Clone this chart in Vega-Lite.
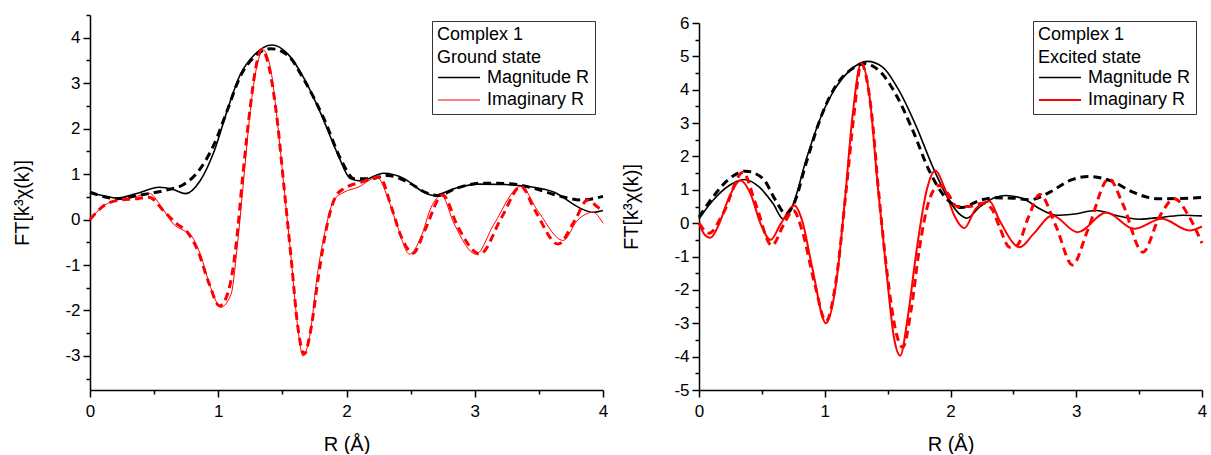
{
"$schema": "https://vega.github.io/schema/vega-lite/v6.json",
"background": "white",
"padding": {"left": 12, "top": 14, "right": 2, "bottom": 0},
"spacing": 12,
"config": {
  "view": {"stroke": null},
  "font": "Liberation Sans",
  "axis": {"grid": false, "domainColor": "black", "tickColor": "black", "labelColor": "black", "titleColor": "black", "labelFont": "Liberation Sans", "titleFont": "Liberation Sans", "labelFontSize": 17, "titleFontSize": 20, "titleFontWeight": "normal", "domainWidth": 1.5, "tickWidth": 1.5, "labelFlush": false, "labelOverlap": false, "labelBound": false},
  "legend": {"orient": "none", "strokeColor": "#333", "fillColor": "white", "padding": 5, "symbolType": "stroke", "symbolSize": 1764, "symbolStrokeWidth": 1.5, "clipHeight": 18, "labelFontSize": 18, "titleFontSize": 18, "titleFontWeight": "normal", "titleLineHeight": 22.5, "rowPadding": 4.5, "titlePadding": 2, "labelOffset": 6, "labelFont": "Liberation Sans", "titleFont": "Liberation Sans", "labelColor": "black", "titleColor": "black", "titleAnchor": "start"}
},
"datasets": {"d": [
{"p":"G","s":"Magnitude R","k":"e","r":0,"v":0.58},{"p":"G","s":"Magnitude R","k":"e","r":0.1,"v":0.53},{"p":"G","s":"Magnitude R","k":"e","r":0.21,"v":0.47},{"p":"G","s":"Magnitude R","k":"e","r":0.35,"v":0.56},{"p":"G","s":"Magnitude R","k":"e","r":0.54,"v":0.71},{"p":"G","s":"Magnitude R","k":"e","r":0.65,"v":0.66},{"p":"G","s":"Magnitude R","k":"e","r":0.745,"v":0.57},{"p":"G","s":"Magnitude R","k":"e","r":0.86,"v":0.86},{"p":"G","s":"Magnitude R","k":"e","r":0.97,"v":1.52},{"p":"G","s":"Magnitude R","k":"e","r":1.07,"v":2.4},{"p":"G","s":"Magnitude R","k":"e","r":1.17,"v":3.18},{"p":"G","s":"Magnitude R","k":"e","r":1.28,"v":3.62},{"p":"G","s":"Magnitude R","k":"e","r":1.42,"v":3.84},{"p":"G","s":"Magnitude R","k":"e","r":1.54,"v":3.65},{"p":"G","s":"Magnitude R","k":"e","r":1.67,"v":3.1},{"p":"G","s":"Magnitude R","k":"e","r":1.8,"v":2.33},{"p":"G","s":"Magnitude R","k":"e","r":1.93,"v":1.45},{"p":"G","s":"Magnitude R","k":"e","r":2.03,"v":0.9},{"p":"G","s":"Magnitude R","k":"e","r":2.11,"v":0.85},{"p":"G","s":"Magnitude R","k":"e","r":2.29,"v":1.02},{"p":"G","s":"Magnitude R","k":"e","r":2.45,"v":0.9},{"p":"G","s":"Magnitude R","k":"e","r":2.58,"v":0.64},{"p":"G","s":"Magnitude R","k":"e","r":2.68,"v":0.53},{"p":"G","s":"Magnitude R","k":"e","r":2.84,"v":0.68},{"p":"G","s":"Magnitude R","k":"e","r":3.02,"v":0.78},{"p":"G","s":"Magnitude R","k":"e","r":3.23,"v":0.77},{"p":"G","s":"Magnitude R","k":"e","r":3.41,"v":0.73},{"p":"G","s":"Magnitude R","k":"e","r":3.62,"v":0.6},{"p":"G","s":"Magnitude R","k":"e","r":3.83,"v":0.24},{"p":"G","s":"Magnitude R","k":"e","r":3.92,"v":0.16},{"p":"G","s":"Magnitude R","k":"e","r":4.0,"v":0.2},
{"p":"G","s":"Magnitude R","k":"f","r":0,"v":0.6},{"p":"G","s":"Magnitude R","k":"f","r":0.21,"v":0.46},{"p":"G","s":"Magnitude R","k":"f","r":0.37,"v":0.53},{"p":"G","s":"Magnitude R","k":"f","r":0.58,"v":0.64},{"p":"G","s":"Magnitude R","k":"f","r":0.73,"v":0.77},{"p":"G","s":"Magnitude R","k":"f","r":0.86,"v":1.12},{"p":"G","s":"Magnitude R","k":"f","r":0.97,"v":1.67},{"p":"G","s":"Magnitude R","k":"f","r":1.07,"v":2.4},{"p":"G","s":"Magnitude R","k":"f","r":1.17,"v":3.14},{"p":"G","s":"Magnitude R","k":"f","r":1.28,"v":3.58},{"p":"G","s":"Magnitude R","k":"f","r":1.41,"v":3.76},{"p":"G","s":"Magnitude R","k":"f","r":1.54,"v":3.62},{"p":"G","s":"Magnitude R","k":"f","r":1.67,"v":3.07},{"p":"G","s":"Magnitude R","k":"f","r":1.83,"v":2.18},{"p":"G","s":"Magnitude R","k":"f","r":1.96,"v":1.3},{"p":"G","s":"Magnitude R","k":"f","r":2.06,"v":0.9},{"p":"G","s":"Magnitude R","k":"f","r":2.19,"v":0.9},{"p":"G","s":"Magnitude R","k":"f","r":2.32,"v":0.97},{"p":"G","s":"Magnitude R","k":"f","r":2.48,"v":0.82},{"p":"G","s":"Magnitude R","k":"f","r":2.63,"v":0.58},{"p":"G","s":"Magnitude R","k":"f","r":2.71,"v":0.53},{"p":"G","s":"Magnitude R","k":"f","r":2.87,"v":0.7},{"p":"G","s":"Magnitude R","k":"f","r":3.05,"v":0.8},{"p":"G","s":"Magnitude R","k":"f","r":3.26,"v":0.79},{"p":"G","s":"Magnitude R","k":"f","r":3.47,"v":0.68},{"p":"G","s":"Magnitude R","k":"f","r":3.67,"v":0.51},{"p":"G","s":"Magnitude R","k":"f","r":3.83,"v":0.43},{"p":"G","s":"Magnitude R","k":"f","r":4.0,"v":0.51},
{"p":"G","s":"Imaginary R","k":"e","r":0,"v":0},{"p":"G","s":"Imaginary R","k":"e","r":0.11,"v":0.31},{"p":"G","s":"Imaginary R","k":"e","r":0.21,"v":0.43},{"p":"G","s":"Imaginary R","k":"e","r":0.34,"v":0.49},{"p":"G","s":"Imaginary R","k":"e","r":0.46,"v":0.58},{"p":"G","s":"Imaginary R","k":"e","r":0.55,"v":0.31},{"p":"G","s":"Imaginary R","k":"e","r":0.65,"v":-0.1},{"p":"G","s":"Imaginary R","k":"e","r":0.73,"v":-0.24},{"p":"G","s":"Imaginary R","k":"e","r":0.78,"v":-0.32},{"p":"G","s":"Imaginary R","k":"e","r":0.86,"v":-0.76},{"p":"G","s":"Imaginary R","k":"e","r":0.94,"v":-1.49},{"p":"G","s":"Imaginary R","k":"e","r":1.02,"v":-1.93},{"p":"G","s":"Imaginary R","k":"e","r":1.1,"v":-1.64},{"p":"G","s":"Imaginary R","k":"e","r":1.15,"v":-0.54},{"p":"G","s":"Imaginary R","k":"e","r":1.2,"v":0.93},{"p":"G","s":"Imaginary R","k":"e","r":1.25,"v":2.4},{"p":"G","s":"Imaginary R","k":"e","r":1.3,"v":3.36},{"p":"G","s":"Imaginary R","k":"e","r":1.35,"v":3.73},{"p":"G","s":"Imaginary R","k":"e","r":1.41,"v":3.29},{"p":"G","s":"Imaginary R","k":"e","r":1.46,"v":2.18},{"p":"G","s":"Imaginary R","k":"e","r":1.51,"v":0.79},{"p":"G","s":"Imaginary R","k":"e","r":1.57,"v":-0.9},{"p":"G","s":"Imaginary R","k":"e","r":1.62,"v":-2.37},{"p":"G","s":"Imaginary R","k":"e","r":1.66,"v":-3.0},{"p":"G","s":"Imaginary R","k":"e","r":1.72,"v":-2.45},{"p":"G","s":"Imaginary R","k":"e","r":1.77,"v":-1.27},{"p":"G","s":"Imaginary R","k":"e","r":1.84,"v":-0.17},{"p":"G","s":"Imaginary R","k":"e","r":1.9,"v":0.42},{"p":"G","s":"Imaginary R","k":"e","r":1.98,"v":0.6},{"p":"G","s":"Imaginary R","k":"e","r":2.09,"v":0.71},{"p":"G","s":"Imaginary R","k":"e","r":2.24,"v":0.93},{"p":"G","s":"Imaginary R","k":"e","r":2.32,"v":0.49},{"p":"G","s":"Imaginary R","k":"e","r":2.4,"v":-0.17},{"p":"G","s":"Imaginary R","k":"e","r":2.49,"v":-0.76},{"p":"G","s":"Imaginary R","k":"e","r":2.58,"v":-0.39},{"p":"G","s":"Imaginary R","k":"e","r":2.66,"v":0.27},{"p":"G","s":"Imaginary R","k":"e","r":2.74,"v":0.53},{"p":"G","s":"Imaginary R","k":"e","r":2.84,"v":-0.1},{"p":"G","s":"Imaginary R","k":"e","r":3.01,"v":-0.76},{"p":"G","s":"Imaginary R","k":"e","r":3.15,"v":-0.1},{"p":"G","s":"Imaginary R","k":"e","r":3.36,"v":0.73},{"p":"G","s":"Imaginary R","k":"e","r":3.49,"v":0.2},{"p":"G","s":"Imaginary R","k":"e","r":3.69,"v":-0.46},{"p":"G","s":"Imaginary R","k":"e","r":3.8,"v":-0.02},{"p":"G","s":"Imaginary R","k":"e","r":3.92,"v":0.16},{"p":"G","s":"Imaginary R","k":"e","r":4.0,"v":-0.08},
{"p":"G","s":"Imaginary R","k":"f","r":0,"v":0},{"p":"G","s":"Imaginary R","k":"f","r":0.11,"v":0.31},{"p":"G","s":"Imaginary R","k":"f","r":0.21,"v":0.42},{"p":"G","s":"Imaginary R","k":"f","r":0.37,"v":0.46},{"p":"G","s":"Imaginary R","k":"f","r":0.46,"v":0.49},{"p":"G","s":"Imaginary R","k":"f","r":0.58,"v":0.17},{"p":"G","s":"Imaginary R","k":"f","r":0.68,"v":-0.1},{"p":"G","s":"Imaginary R","k":"f","r":0.76,"v":-0.28},{"p":"G","s":"Imaginary R","k":"f","r":0.84,"v":-0.68},{"p":"G","s":"Imaginary R","k":"f","r":0.93,"v":-1.42},{"p":"G","s":"Imaginary R","k":"f","r":1.01,"v":-1.9},{"p":"G","s":"Imaginary R","k":"f","r":1.08,"v":-1.57},{"p":"G","s":"Imaginary R","k":"f","r":1.14,"v":-0.54},{"p":"G","s":"Imaginary R","k":"f","r":1.19,"v":0.93},{"p":"G","s":"Imaginary R","k":"f","r":1.25,"v":2.48},{"p":"G","s":"Imaginary R","k":"f","r":1.29,"v":3.3},{"p":"G","s":"Imaginary R","k":"f","r":1.34,"v":3.74},{"p":"G","s":"Imaginary R","k":"f","r":1.4,"v":3.3},{"p":"G","s":"Imaginary R","k":"f","r":1.46,"v":2.18},{"p":"G","s":"Imaginary R","k":"f","r":1.51,"v":0.79},{"p":"G","s":"Imaginary R","k":"f","r":1.57,"v":-0.9},{"p":"G","s":"Imaginary R","k":"f","r":1.62,"v":-2.35},{"p":"G","s":"Imaginary R","k":"f","r":1.67,"v":-2.96},{"p":"G","s":"Imaginary R","k":"f","r":1.72,"v":-2.45},{"p":"G","s":"Imaginary R","k":"f","r":1.78,"v":-1.27},{"p":"G","s":"Imaginary R","k":"f","r":1.85,"v":-0.1},{"p":"G","s":"Imaginary R","k":"f","r":1.92,"v":0.53},{"p":"G","s":"Imaginary R","k":"f","r":1.98,"v":0.68},{"p":"G","s":"Imaginary R","k":"f","r":2.11,"v":0.82},{"p":"G","s":"Imaginary R","k":"f","r":2.26,"v":0.93},{"p":"G","s":"Imaginary R","k":"f","r":2.35,"v":0.27},{"p":"G","s":"Imaginary R","k":"f","r":2.43,"v":-0.4},{"p":"G","s":"Imaginary R","k":"f","r":2.52,"v":-0.74},{"p":"G","s":"Imaginary R","k":"f","r":2.61,"v":-0.24},{"p":"G","s":"Imaginary R","k":"f","r":2.75,"v":0.54},{"p":"G","s":"Imaginary R","k":"f","r":2.87,"v":-0.17},{"p":"G","s":"Imaginary R","k":"f","r":3.04,"v":-0.76},{"p":"G","s":"Imaginary R","k":"f","r":3.21,"v":0.05},{"p":"G","s":"Imaginary R","k":"f","r":3.36,"v":0.73},{"p":"G","s":"Imaginary R","k":"f","r":3.47,"v":0.2},{"p":"G","s":"Imaginary R","k":"f","r":3.65,"v":-0.54},{"p":"G","s":"Imaginary R","k":"f","r":3.78,"v":-0.02},{"p":"G","s":"Imaginary R","k":"f","r":3.88,"v":0.43},{"p":"G","s":"Imaginary R","k":"f","r":3.96,"v":0.27},{"p":"G","s":"Imaginary R","k":"f","r":4.0,"v":0.2},
{"p":"E","s":"Magnitude R","k":"e","r":0,"v":0.13},{"p":"E","s":"Magnitude R","k":"e","r":0.11,"v":0.68},{"p":"E","s":"Magnitude R","k":"e","r":0.24,"v":1.13},{"p":"E","s":"Magnitude R","k":"e","r":0.36,"v":1.31},{"p":"E","s":"Magnitude R","k":"e","r":0.48,"v":1.08},{"p":"E","s":"Magnitude R","k":"e","r":0.59,"v":0.58},{"p":"E","s":"Magnitude R","k":"e","r":0.67,"v":0.13},{"p":"E","s":"Magnitude R","k":"e","r":0.75,"v":0.58},{"p":"E","s":"Magnitude R","k":"e","r":0.85,"v":1.88},{"p":"E","s":"Magnitude R","k":"e","r":0.98,"v":3.28},{"p":"E","s":"Magnitude R","k":"e","r":1.09,"v":4.08},{"p":"E","s":"Magnitude R","k":"e","r":1.2,"v":4.58},{"p":"E","s":"Magnitude R","k":"e","r":1.34,"v":4.85},{"p":"E","s":"Magnitude R","k":"e","r":1.46,"v":4.68},{"p":"E","s":"Magnitude R","k":"e","r":1.59,"v":3.98},{"p":"E","s":"Magnitude R","k":"e","r":1.73,"v":2.88},{"p":"E","s":"Magnitude R","k":"e","r":1.86,"v":1.68},{"p":"E","s":"Magnitude R","k":"e","r":1.99,"v":0.68},{"p":"E","s":"Magnitude R","k":"e","r":2.07,"v":0.28},{"p":"E","s":"Magnitude R","k":"e","r":2.13,"v":0.15},{"p":"E","s":"Magnitude R","k":"e","r":2.23,"v":0.48},{"p":"E","s":"Magnitude R","k":"e","r":2.36,"v":0.78},{"p":"E","s":"Magnitude R","k":"e","r":2.44,"v":0.83},{"p":"E","s":"Magnitude R","k":"e","r":2.58,"v":0.73},{"p":"E","s":"Magnitude R","k":"e","r":2.71,"v":0.43},{"p":"E","s":"Magnitude R","k":"e","r":2.84,"v":0.24},{"p":"E","s":"Magnitude R","k":"e","r":2.97,"v":0.27},{"p":"E","s":"Magnitude R","k":"e","r":3.16,"v":0.38},{"p":"E","s":"Magnitude R","k":"e","r":3.32,"v":0.23},{"p":"E","s":"Magnitude R","k":"e","r":3.5,"v":0.12},{"p":"E","s":"Magnitude R","k":"e","r":3.69,"v":0.18},{"p":"E","s":"Magnitude R","k":"e","r":3.85,"v":0.24},{"p":"E","s":"Magnitude R","k":"e","r":4.0,"v":0.22},
{"p":"E","s":"Magnitude R","k":"f","r":0,"v":0.18},{"p":"E","s":"Magnitude R","k":"f","r":0.11,"v":0.78},{"p":"E","s":"Magnitude R","k":"f","r":0.24,"v":1.33},{"p":"E","s":"Magnitude R","k":"f","r":0.37,"v":1.56},{"p":"E","s":"Magnitude R","k":"f","r":0.51,"v":1.33},{"p":"E","s":"Magnitude R","k":"f","r":0.61,"v":0.68},{"p":"E","s":"Magnitude R","k":"f","r":0.69,"v":0.28},{"p":"E","s":"Magnitude R","k":"f","r":0.76,"v":0.63},{"p":"E","s":"Magnitude R","k":"f","r":0.85,"v":1.78},{"p":"E","s":"Magnitude R","k":"f","r":0.98,"v":3.28},{"p":"E","s":"Magnitude R","k":"f","r":1.09,"v":4.13},{"p":"E","s":"Magnitude R","k":"f","r":1.2,"v":4.58},{"p":"E","s":"Magnitude R","k":"f","r":1.32,"v":4.78},{"p":"E","s":"Magnitude R","k":"f","r":1.43,"v":4.58},{"p":"E","s":"Magnitude R","k":"f","r":1.57,"v":3.83},{"p":"E","s":"Magnitude R","k":"f","r":1.7,"v":2.78},{"p":"E","s":"Magnitude R","k":"f","r":1.83,"v":1.58},{"p":"E","s":"Magnitude R","k":"f","r":1.97,"v":0.73},{"p":"E","s":"Magnitude R","k":"f","r":2.09,"v":0.47},{"p":"E","s":"Magnitude R","k":"f","r":2.23,"v":0.68},{"p":"E","s":"Magnitude R","k":"f","r":2.36,"v":0.76},{"p":"E","s":"Magnitude R","k":"f","r":2.5,"v":0.75},{"p":"E","s":"Magnitude R","k":"f","r":2.63,"v":0.7},{"p":"E","s":"Magnitude R","k":"f","r":2.79,"v":0.93},{"p":"E","s":"Magnitude R","k":"f","r":2.95,"v":1.28},{"p":"E","s":"Magnitude R","k":"f","r":3.1,"v":1.4},{"p":"E","s":"Magnitude R","k":"f","r":3.29,"v":1.25},{"p":"E","s":"Magnitude R","k":"f","r":3.45,"v":0.93},{"p":"E","s":"Magnitude R","k":"f","r":3.66,"v":0.73},{"p":"E","s":"Magnitude R","k":"f","r":3.82,"v":0.74},{"p":"E","s":"Magnitude R","k":"f","r":4.0,"v":0.77},
{"p":"E","s":"Imaginary R","k":"e","r":0,"v":0},{"p":"E","s":"Imaginary R","k":"e","r":0.04,"v":-0.32},{"p":"E","s":"Imaginary R","k":"e","r":0.09,"v":-0.44},{"p":"E","s":"Imaginary R","k":"e","r":0.16,"v":-0.02},{"p":"E","s":"Imaginary R","k":"e","r":0.24,"v":0.78},{"p":"E","s":"Imaginary R","k":"e","r":0.33,"v":1.28},{"p":"E","s":"Imaginary R","k":"e","r":0.41,"v":0.88},{"p":"E","s":"Imaginary R","k":"e","r":0.49,"v":-0.02},{"p":"E","s":"Imaginary R","k":"e","r":0.57,"v":-0.5},{"p":"E","s":"Imaginary R","k":"e","r":0.65,"v":-0.02},{"p":"E","s":"Imaginary R","k":"e","r":0.76,"v":0.53},{"p":"E","s":"Imaginary R","k":"e","r":0.82,"v":0.08},{"p":"E","s":"Imaginary R","k":"e","r":0.9,"v":-1.32},{"p":"E","s":"Imaginary R","k":"e","r":1.01,"v":-3.0},{"p":"E","s":"Imaginary R","k":"e","r":1.09,"v":-1.82},{"p":"E","s":"Imaginary R","k":"e","r":1.16,"v":0.68},{"p":"E","s":"Imaginary R","k":"e","r":1.22,"v":3.18},{"p":"E","s":"Imaginary R","k":"e","r":1.29,"v":4.8},{"p":"E","s":"Imaginary R","k":"e","r":1.36,"v":3.68},{"p":"E","s":"Imaginary R","k":"e","r":1.42,"v":1.18},{"p":"E","s":"Imaginary R","k":"e","r":1.49,"v":-1.42},{"p":"E","s":"Imaginary R","k":"e","r":1.55,"v":-3.42},{"p":"E","s":"Imaginary R","k":"e","r":1.6,"v":-3.97},{"p":"E","s":"Imaginary R","k":"e","r":1.66,"v":-2.82},{"p":"E","s":"Imaginary R","k":"e","r":1.73,"v":-0.82},{"p":"E","s":"Imaginary R","k":"e","r":1.81,"v":0.98},{"p":"E","s":"Imaginary R","k":"e","r":1.88,"v":1.58},{"p":"E","s":"Imaginary R","k":"e","r":1.95,"v":1.08},{"p":"E","s":"Imaginary R","k":"e","r":2.03,"v":0.23},{"p":"E","s":"Imaginary R","k":"e","r":2.11,"v":-0.15},{"p":"E","s":"Imaginary R","k":"e","r":2.2,"v":0.43},{"p":"E","s":"Imaginary R","k":"e","r":2.31,"v":0.66},{"p":"E","s":"Imaginary R","k":"e","r":2.39,"v":0.08},{"p":"E","s":"Imaginary R","k":"e","r":2.55,"v":-0.72},{"p":"E","s":"Imaginary R","k":"e","r":2.66,"v":-0.32},{"p":"E","s":"Imaginary R","k":"e","r":2.81,"v":0.23},{"p":"E","s":"Imaginary R","k":"e","r":3.01,"v":-0.27},{"p":"E","s":"Imaginary R","k":"e","r":3.24,"v":0.32},{"p":"E","s":"Imaginary R","k":"e","r":3.46,"v":-0.17},{"p":"E","s":"Imaginary R","k":"e","r":3.68,"v":0.13},{"p":"E","s":"Imaginary R","k":"e","r":3.9,"v":-0.22},{"p":"E","s":"Imaginary R","k":"e","r":4.0,"v":-0.1},
{"p":"E","s":"Imaginary R","k":"f","r":0,"v":0},{"p":"E","s":"Imaginary R","k":"f","r":0.08,"v":-0.3},{"p":"E","s":"Imaginary R","k":"f","r":0.19,"v":0.28},{"p":"E","s":"Imaginary R","k":"f","r":0.35,"v":1.53},{"p":"E","s":"Imaginary R","k":"f","r":0.45,"v":0.58},{"p":"E","s":"Imaginary R","k":"f","r":0.58,"v":-0.67},{"p":"E","s":"Imaginary R","k":"f","r":0.67,"v":-0.07},{"p":"E","s":"Imaginary R","k":"f","r":0.75,"v":0.38},{"p":"E","s":"Imaginary R","k":"f","r":0.82,"v":-0.22},{"p":"E","s":"Imaginary R","k":"f","r":0.92,"v":-1.82},{"p":"E","s":"Imaginary R","k":"f","r":1.01,"v":-2.94},{"p":"E","s":"Imaginary R","k":"f","r":1.09,"v":-1.72},{"p":"E","s":"Imaginary R","k":"f","r":1.17,"v":0.98},{"p":"E","s":"Imaginary R","k":"f","r":1.23,"v":3.18},{"p":"E","s":"Imaginary R","k":"f","r":1.29,"v":4.78},{"p":"E","s":"Imaginary R","k":"f","r":1.37,"v":3.38},{"p":"E","s":"Imaginary R","k":"f","r":1.43,"v":0.88},{"p":"E","s":"Imaginary R","k":"f","r":1.5,"v":-1.62},{"p":"E","s":"Imaginary R","k":"f","r":1.57,"v":-3.32},{"p":"E","s":"Imaginary R","k":"f","r":1.62,"v":-3.72},{"p":"E","s":"Imaginary R","k":"f","r":1.69,"v":-2.52},{"p":"E","s":"Imaginary R","k":"f","r":1.75,"v":-0.82},{"p":"E","s":"Imaginary R","k":"f","r":1.83,"v":0.68},{"p":"E","s":"Imaginary R","k":"f","r":1.91,"v":1.13},{"p":"E","s":"Imaginary R","k":"f","r":1.98,"v":0.88},{"p":"E","s":"Imaginary R","k":"f","r":2.05,"v":0.5},{"p":"E","s":"Imaginary R","k":"f","r":2.15,"v":0.5},{"p":"E","s":"Imaginary R","k":"f","r":2.26,"v":0.6},{"p":"E","s":"Imaginary R","k":"f","r":2.33,"v":0.42},{"p":"E","s":"Imaginary R","k":"f","r":2.39,"v":-0.12},{"p":"E","s":"Imaginary R","k":"f","r":2.47,"v":-0.72},{"p":"E","s":"Imaginary R","k":"f","r":2.53,"v":-0.66},{"p":"E","s":"Imaginary R","k":"f","r":2.62,"v":0.18},{"p":"E","s":"Imaginary R","k":"f","r":2.71,"v":0.86},{"p":"E","s":"Imaginary R","k":"f","r":2.84,"v":-0.1},{"p":"E","s":"Imaginary R","k":"f","r":2.97,"v":-1.25},{"p":"E","s":"Imaginary R","k":"f","r":3.09,"v":-0.22},{"p":"E","s":"Imaginary R","k":"f","r":3.26,"v":1.33},{"p":"E","s":"Imaginary R","k":"f","r":3.37,"v":0.58},{"p":"E","s":"Imaginary R","k":"f","r":3.53,"v":-0.87},{"p":"E","s":"Imaginary R","k":"f","r":3.66,"v":0.18},{"p":"E","s":"Imaginary R","k":"f","r":3.78,"v":0.73},{"p":"E","s":"Imaginary R","k":"f","r":3.9,"v":0.18},{"p":"E","s":"Imaginary R","k":"f","r":4.0,"v":-0.6}
]},
"resolve": {"scale": {"color": "independent", "strokeWidth": "independent", "x": "independent", "y": "independent"}, "legend": {"color": "independent"}},
"hconcat": [
{
  "width": 513, "height": 375,
  "data": {"name": "d"},
  "transform": [{"filter": "datum.p === 'G'"}],
  "encoding": {
    "color": {"field": "s", "type": "nominal", "scale": {"domain": ["Magnitude R", "Imaginary R"], "range": ["black", "red"]},
      "legend": {"title": ["Complex 1", "Ground state"], "legendX": 342, "legendY": 6}}
  },
  "resolve": {"axis": {"x": "independent", "y": "independent"}},
  "layer": [
    {"transform": [{"filter": "datum.k === 'e'"}], "mark": {"type": "line", "interpolate": "monotone"},
     "encoding": {
       "x": {"field": "r", "type": "quantitative", "scale": {"domain": [0, 4], "nice": false, "zero": false},
         "axis": {"orient": "bottom", "title": "R (Å)", "values": [0,1,2,3,4], "labelExpr": "toString(datum.value)", "tickSize": 7, "labelPadding": 6, "titlePadding": 15}},
       "y": {"field": "v", "type": "quantitative", "scale": {"domain": [-3.75, 4.5], "nice": false, "zero": false},
         "axis": {"orient": "left", "title": "FT[k³χ(k)]", "values": [-3,-2,-1,0,1,2,3,4], "labelExpr": "toString(datum.value)", "tickSize": 7, "labelPadding": 3, "titlePadding": 32}},
       "strokeWidth": {"field": "s", "type": "nominal", "scale": {"domain": ["Magnitude R", "Imaginary R"], "range": [1.6, 1]}, "legend": null}}},
    {"transform": [{"filter": "datum.k === 'f'"}], "mark": {"type": "line", "interpolate": "monotone", "strokeDash": [8, 5], "strokeWidth": 3},
     "encoding": {
       "x": {"field": "r", "type": "quantitative", "axis": {"orient": "bottom", "title": null, "values": [0.5,1.5,2.5,3.5], "labels": false, "domain": false, "tickSize": 4}},
       "y": {"field": "v", "type": "quantitative", "axis": {"orient": "left", "title": null, "values": [-3.5,-2.5,-1.5,-0.5,0.5,1.5,2.5,3.5,4.5], "labels": false, "domain": false, "tickSize": 4}}}}
  ]
},
{
  "spacing": -2,
  "vconcat": [
    {"height": 1, "width": 1, "data": {"values": [{}]}, "mark": {"type": "text", "text": "", "fontSize": 0, "baseline": "top"}, "encoding": {}},
    {
  "width": 503, "height": 367,
  "data": {"name": "d"},
  "transform": [{"filter": "datum.p === 'E'"}],
  "encoding": {
    "color": {"field": "s", "type": "nominal", "scale": {"domain": ["Magnitude R", "Imaginary R"], "range": ["black", "red"]},
      "legend": {"title": ["Complex 1", "Excited state"], "legendX": 334, "legendY": 6}}
  },
  "resolve": {"axis": {"x": "independent", "y": "independent"}},
  "layer": [
    {"transform": [{"filter": "datum.k === 'e'"}], "mark": {"type": "line", "interpolate": "monotone"},
     "encoding": {
       "x": {"field": "r", "type": "quantitative", "scale": {"domain": [0, 4], "nice": false, "zero": false},
         "axis": {"orient": "bottom", "title": "R (Å)", "values": [0,1,2,3,4], "labelExpr": "toString(datum.value)", "tickSize": 7, "labelPadding": 6, "titlePadding": 15}},
       "y": {"field": "v", "type": "quantitative", "scale": {"domain": [-5, 6], "nice": false, "zero": false},
         "axis": {"orient": "left", "title": "FT[k³χ(k)]", "values": [-5,-4,-3,-2,-1,0,1,2,3,4,5,6], "labelExpr": "toString(datum.value)", "tickSize": 7, "labelPadding": 3, "titlePadding": 32}},
       "strokeWidth": {"field": "s", "type": "nominal", "scale": {"domain": ["Magnitude R", "Imaginary R"], "range": [1.6, 2]}, "legend": null}}},
    {"transform": [{"filter": "datum.k === 'f'"}], "mark": {"type": "line", "interpolate": "monotone", "strokeDash": [8, 5], "strokeWidth": 3},
     "encoding": {
       "x": {"field": "r", "type": "quantitative", "axis": {"orient": "bottom", "title": null, "values": [0.5,1.5,2.5,3.5], "labels": false, "domain": false, "tickSize": 4}},
       "y": {"field": "v", "type": "quantitative", "axis": {"orient": "left", "title": null, "values": [-4.5,-3.5,-2.5,-1.5,-0.5,0.5,1.5,2.5,3.5,4.5,5.5], "labels": false, "domain": false, "tickSize": 4}}}}
  ]
    }
  ]
}
]
}
